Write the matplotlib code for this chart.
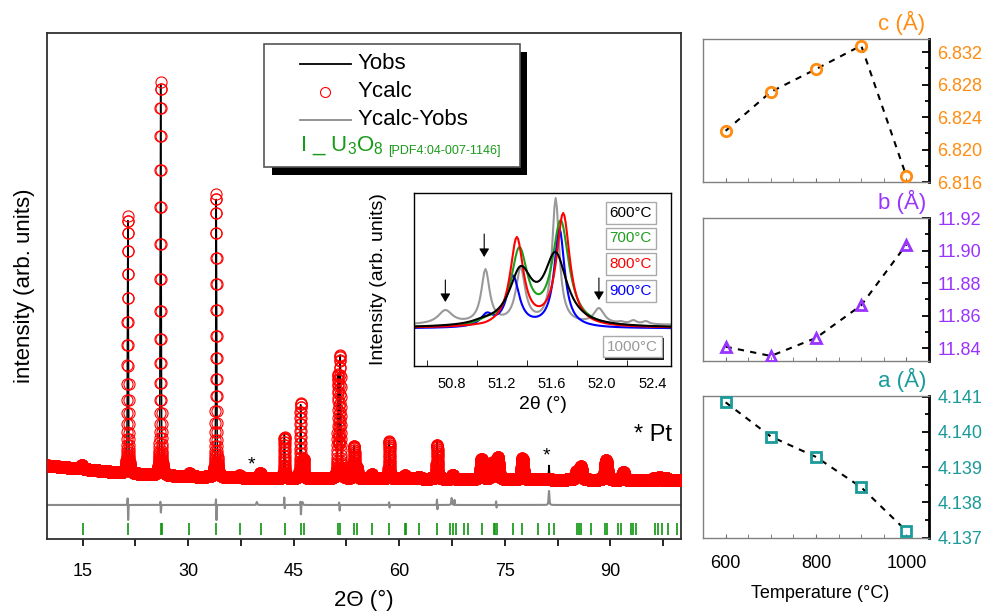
import numpy as np
import matplotlib
matplotlib.use("Agg")
import matplotlib.pyplot as plt
from matplotlib.patches import Rectangle
from matplotlib.lines import Line2D
from matplotlib.ticker import MultipleLocator, FixedLocator, NullLocator, NullFormatter
import matplotlib.patheffects as pe

plt.rcParams['font.family'] = ['Liberation Sans', 'DejaVu Sans']
plt.rcParams['mathtext.fontset'] = 'custom'
plt.rcParams['mathtext.rm'] = 'Liberation Sans'
plt.rcParams['mathtext.it'] = 'Liberation Sans:italic'
plt.rcParams['mathtext.bf'] = 'Liberation Sans:bold'

# ---------------- main XRD pattern (arbitrary units) ----------------
two_theta_min, two_theta_max, two_theta_step = 10.0, 100.0, 0.01
bg_knots_x = [10, 15, 20, 25, 30, 40, 60, 80, 100]
bg_knots_y = [73.5, 70, 66.5, 64, 62.5, 61, 60.5, 59.5, 58.5]

peak_pos = [14.9, 21.45, 26.1, 30.2, 34.0, 37.3, 40.25, 43.7, 46.0, 46.4,
            51.32, 51.62, 53.6, 54.0, 56.1, 58.6, 60.8, 62.8, 65.4, 67.6,
            71.7, 73.2, 74.0, 77.5, 85.2, 85.8, 89.4, 91.85, 96.2, 97.0, 98.0]
peak_height = [4, 257, 393, 3, 283, 2, 5, 41, 75, 18,
               100, 120, 32, 10, 4, 37, 3, 2, 34, 4,
               20, 16, 22, 21, 8, 13, 20, 8, 2, 3, 2]
peak_fwhm = [0.25, 0.14, 0.14, 0.25, 0.14, 0.25, 0.25, 0.15, 0.15, 0.15,
             0.16, 0.16, 0.2, 0.2, 0.3, 0.18, 0.3, 0.3, 0.2, 0.3,
             0.35, 0.35, 0.35, 0.3, 0.4, 0.4, 0.4, 0.4, 0.4, 0.4, 0.4]

# misfit residual spikes (Yobs - Ycalc)
resid_pos = [21.45, 26.1, 34.0, 43.7, 46.0, 51.5, 58.6, 65.4, 67.9, 73.8]
resid_up = [8, 4, 7, 8, 4, 3, 3, 6, 5, 4]
resid_down = [16, 8, 16, 4, 10, 6, 3, 5, 0, 3]

# Pt reflections (only in Yobs)
pt_pos = [39.76, 46.24, 67.45, 81.28]
pt_height = [3, 3, 7, 14]

# U3O8 reflection markers
u3o8_ticks = [15.0, 21.45, 26.1, 26.3, 30.2, 34.0, 37.4, 40.4, 43.7, 46.0, 46.4,
              51.3, 51.6, 53.6, 54.0, 56.1, 58.6, 60.8, 61.0, 62.8, 65.4,
              67.2, 67.6, 68.0, 69.2, 69.8, 71.7, 73.4, 73.6, 73.9, 76.1, 77.5,
              79.7, 81.3, 82.0, 85.3, 85.5, 85.8, 87.2, 89.2, 89.5, 91.1, 91.5,
              92.9, 93.2, 93.7, 96.4, 96.8, 97.3, 98.2, 99.5]
diff_offset = 34
tick_row_low, tick_row_high = 4, 16

# ---------------- inset: 2theta 50.5-52.55 ----------------
inset_temps = ['600°C', '700°C', '800°C', '900°C', '1000°C']
inset_colors = ['black', '#1e9e1e', '#ff0000', '#0000ff', '#999999']
inset_base = [38, 38, 38, 37.5, 41]
inset_pos = [[51.05, 51.35, 51.63],
             [51.08, 51.34, 51.67],
             [51.07, 51.32, 51.69],
             [51.08, 51.29, 51.66],
             [50.75, 51.07, 51.35, 51.63, 51.975, 52.15, 52.25, 52.35]]
inset_height = [[11, 62, 76],
                [12, 81, 108],
                [6, 91, 115],
                [16, 53, 100],
                [15, 56, 58, 127, 17, 4, 5, 4]]
inset_hwhm = [[0.1, 0.11, 0.11],
              [0.08, 0.08, 0.08],
              [0.065, 0.065, 0.065],
              [0.06, 0.06, 0.05],
              [0.07, 0.04, 0.045, 0.035, 0.05, 0.03, 0.03, 0.03]]

# ---------------- lattice parameters ----------------
temperature = [600, 700, 800, 900, 1000]
c_param = [6.8223, 6.8271, 6.8299, 6.8328, 6.8167]
b_param = [11.8408, 11.8351, 11.8462, 11.8663, 11.9037]
a_param = [4.14084, 4.13987, 4.13929, 4.13843, 4.13719]


def pseudo_voigt(x, x0, fwhm, eta=0.5):
    d = (x - x0) / fwhm
    return eta / (1 + 4 * d ** 2) + (1 - eta) * np.exp(-4 * np.log(2) * d ** 2)


def gauss(x, x0, fwhm):
    return np.exp(-4 * np.log(2) * ((x - x0) / fwhm) ** 2)


def lor(x, x0, hw):
    return 1.0 / (1 + ((x - x0) / hw) ** 2)


fig = plt.figure(figsize=(9.86, 6.15), dpi=100)

# ================= main axes =================
ax = fig.add_axes([0.048, 0.1236, 0.6424, 0.8228])
x = np.arange(two_theta_min, two_theta_max + two_theta_step / 2, two_theta_step)
bg = np.interp(x, bg_knots_x, bg_knots_y)
ycalc = bg.copy()
for p, h, w in zip(peak_pos, peak_height, peak_fwhm):
    ycalc += h * pseudo_voigt(x, p, w)
resid = np.zeros_like(x)
for p, up, dn in zip(resid_pos, resid_up, resid_down):
    resid += up * gauss(x, p - 0.03, 0.07) - dn * gauss(x, p + 0.03, 0.07)
for p, h in zip(pt_pos, pt_height):
    resid += h * pseudo_voigt(x, p, 0.14)
yobs = ycalc + resid

ax.plot(x, yobs, color='black', lw=1.1, zorder=2)
ax.plot(x, ycalc, linestyle='none', marker='o', ms=8, mfc='none',
        mec='#ff0000', mew=0.8, zorder=3)
ax.plot(x, diff_offset + resid, color='#8a8a8a', lw=1.5, zorder=2)
ax.vlines(u3o8_ticks, tick_row_low, tick_row_high, color='#0e960e', lw=1.2, zorder=2)

ax.set_xlim(two_theta_min, two_theta_max)
ax.set_ylim(0, 506)
ax.xaxis.set_major_locator(FixedLocator([15, 30, 45, 60, 75, 90]))
ax.xaxis.set_minor_locator(FixedLocator([22.5, 37.5, 52.5, 67.5, 82.5, 97.5]))
ax.yaxis.set_major_locator(NullLocator())
ax.tick_params(axis='x', which='both', direction='out', length=5, width=1.2,
               labelsize=13, pad=12)
for s in ax.spines.values():
    s.set_color('#303030')
    s.set_linewidth(1.3)
ax.set_xlabel('2Θ (°)', fontsize=16)
ax.xaxis.set_label_coords(0.5, -0.100)
ax.set_ylabel('intensity (arb. units)', fontsize=16)
ax.yaxis.set_label_coords(-0.020, 0.5)

ax.text(38.98, 74, '*', ha='center', va='center', fontsize=14, zorder=5)
ax.text(80.94, 83, '*', ha='center', va='center', fontsize=14, zorder=5)
ax.text(0.986, 0.2055, '* Pt', transform=ax.transAxes, ha='right', va='center',
        fontsize=17)

# legend (drawn manually in axes fraction)
def fx(px):
    return (px - 47.3) / 633.4


def fy(py):
    return (539 - py) / 506


ax.add_patch(Rectangle((fx(272), fy(175)), fx(527) - fx(272), fy(52) - fy(175),
                       transform=ax.transAxes, facecolor='black', edgecolor='none',
                       zorder=9))
ax.add_patch(Rectangle((fx(264), fy(167)), fx(520) - fx(264), fy(44) - fy(167),
                       transform=ax.transAxes, facecolor='white', edgecolor='#555555',
                       lw=1.2, zorder=10))
ax.add_line(Line2D([fx(300), fx(351)], [fy(64)] * 2, color='black', lw=1.3,
                   transform=ax.transAxes, zorder=11))
ax.add_line(Line2D([fx(325)], [fy(92)], marker='o', ms=7.2, mfc='none', mec='#ff0000',
                   mew=0.8, transform=ax.transAxes, zorder=11))
ax.add_line(Line2D([fx(300), fx(351)], [fy(120)] * 2, color='#8a8a8a', lw=1.3,
                   transform=ax.transAxes, zorder=11))
for lab, py in [('Yobs', 64), ('Ycalc', 92), ('Ycalc-Yobs', 120)]:
    ax.text(fx(357), fy(py), lab, transform=ax.transAxes, ha='left', va='center',
            fontsize=16, zorder=12)
ax.text(fx(300), fy(146), 'I _ U$_3$O$_8$', transform=ax.transAxes, ha='left',
        va='center', fontsize=16, color='#1a9a1a', zorder=12)
ax.text(fx(388), fy(151), '[PDF4:04-007-1146]', transform=ax.transAxes, ha='left',
        va='center', fontsize=9, color='#1a9a1a', zorder=12)

# ================= inset =================
axi = fig.add_axes([414 / 986, (615 - 366) / 615, 257 / 986, 173 / 615])
xi = np.arange(50.5, 52.55 + 0.005, 0.01)
order = [4, 3, 1, 2, 0]
curves = {}
for k in range(5):
    pos = np.array(inset_pos[k])
    hw = np.array(inset_hwhm[k])
    M = lor(pos[:, None], pos[None, :], hw[None, :])
    amps = np.linalg.solve(M, np.array(inset_height[k], float))
    yk = inset_base[k] + sum(a * lor(xi, p, w) for a, p, w in zip(amps, pos, hw))
    curves[k] = yk
for k in order:
    axi.plot(xi, curves[k], color=inset_colors[k], lw=1.5)
axi.set_xlim(50.5, 52.55)
axi.set_ylim(0, 173)
axi.xaxis.set_major_locator(FixedLocator([50.8, 51.2, 51.6, 52.0, 52.4]))
axi.xaxis.set_minor_locator(FixedLocator([50.6, 51.0, 51.4, 51.8, 52.2]))
axi.yaxis.set_major_locator(NullLocator())
axi.tick_params(axis='x', which='major', length=0, labelsize=10.5, pad=8)
axi.tick_params(axis='x', which='minor', direction='in', length=4)
for s in axi.spines.values():
    s.set_linewidth(1.0)
axi.set_ylabel('Intensity (arb. units)', fontsize=14)
axi.yaxis.set_label_coords(-0.105, 0.5)
axi.set_xlabel('2θ (°)', fontsize=14)
axi.xaxis.set_label_coords(0.5, -0.175)

for (xa, ytail, ytip) in [(50.75, 86, 64), (51.06, 132, 109), (51.975, 88, 66)]:
    axi.annotate('', xy=(xa, ytip), xytext=(xa, ytail),
                 arrowprops=dict(arrowstyle='-|>,head_length=0.5,head_width=0.3',
                                 color='black', lw=0.8, shrinkA=0, shrinkB=0))

box_y = [0.883, 0.738, 0.588, 0.434, 0.112]
box_x = [0.926, 0.926, 0.926, 0.926, 0.949]
for k in range(5):
    t = axi.text(box_x[k], box_y[k], inset_temps[k], transform=axi.transAxes,
                 ha='right', va='center', fontsize=11, color=inset_colors[k],
                 bbox=dict(boxstyle='square,pad=0.25', fc='white', ec='#aaaaaa', lw=1))
    if k == 4:
        t.get_bbox_patch().set_path_effects(
            [pe.SimplePatchShadow(offset=(1.5, -1.5), shadow_rgbFace='black', alpha=0.9),
             pe.Normal()])

# ================= lattice parameter panels =================
panels = [
    ([0.713, 0.704, 0.2292, 0.2325], c_param, '#ff8c10', 'o', 'c (Å)',
     (6.816, 6.8336), 0.004, 0.002, '%.3f'),
    ([0.713, 0.413, 0.2292, 0.2325], b_param, '#9933ff', '^', 'b (Å)',
     (11.832, 11.92), 0.02, 0.01, '%.2f'),
    ([0.713, 0.1252, 0.2292, 0.2309], a_param, '#1a9a9a', 's', 'a (Å)',
     (4.13699, 4.14102), 0.001, 0.0005, '%.3f'),
]
for i, (rect, vals, col, mk, lab, ylim, maj, mnr, fmt) in enumerate(panels):
    pa = fig.add_axes(rect)
    pa.plot(temperature, vals, color='black', ls=(0, (3, 3)), lw=1.5, zorder=2)
    pa.plot(temperature, vals, ls='none', marker=mk, ms=7.5 if mk != 's' else 6.5,
            mfc='none', mec=col, mew=2, zorder=3)
    pa.set_xlim(550, 1050)
    pa.set_ylim(*ylim)
    pa.yaxis.tick_right()
    pa.yaxis.set_major_locator(MultipleLocator(maj))
    pa.yaxis.set_minor_locator(MultipleLocator(mnr))
    pa.yaxis.set_major_formatter(matplotlib.ticker.FormatStrFormatter(fmt))
    pa.tick_params(axis='y', which='both', direction='in', right=True, left=False,
                   labelsize=13, labelcolor=col, pad=6, color='black', width=1.3)
    pa.tick_params(axis='y', which='major', length=5)
    pa.tick_params(axis='y', which='minor', length=3)
    pa.xaxis.set_major_locator(MultipleLocator(200))
    pa.xaxis.set_minor_locator(MultipleLocator(50))
    pa.tick_params(axis='x', which='both', direction='in', length=3, color='#707070',
                   labelsize=13, pad=12)
    if i < 2:
        pa.xaxis.set_major_formatter(NullFormatter())
    else:
        pa.set_xlabel('Temperature (°C)', fontsize=13)
        pa.xaxis.set_label_coords(0.518, -0.33)
    for name, s in pa.spines.items():
        s.set_color('#808080')
        s.set_linewidth(1.0)
    pa.spines['right'].set_color('black')
    pa.spines['right'].set_linewidth(2.0)
    pa.text(0.88, 1.11, lab, transform=pa.transAxes, ha='center', va='center',
            fontsize=16, color=col)

fig.savefig('out.png', dpi=100)
